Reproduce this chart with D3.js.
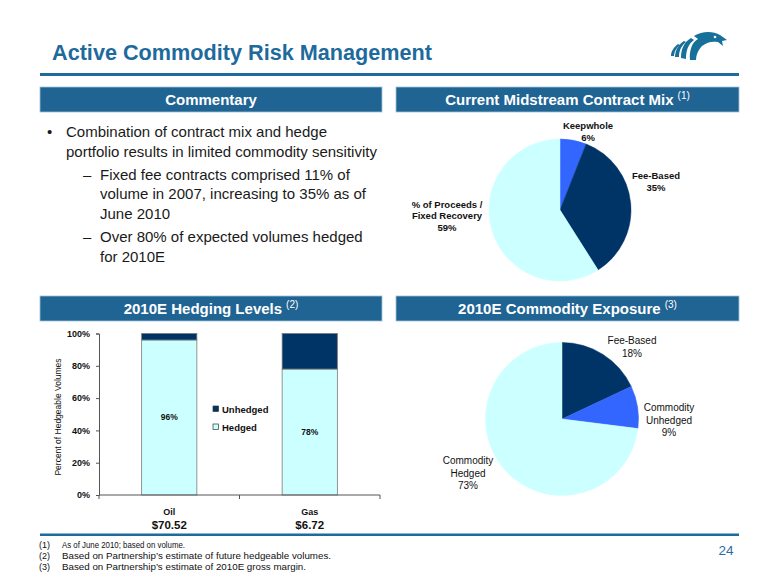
<!DOCTYPE html>
<html><head><meta charset="utf-8">
<script src="https://cdn.jsdelivr.net/npm/d3@7"></script>
<style>body{margin:0;background:#fff}svg{display:block;font-family:"Liberation Sans",Arial,Helvetica,sans-serif}</style>
</head><body><svg id="c" width="780" height="585"></svg>
<script>
// ---------- data ----------
const contractMixCategories = [["Keepwhole"], ["Fee-Based"], ["% of Proceeds /", "Fixed Recovery"]];
const contractMixValues = [6, 35, 59];
const exposureCategories = [["Fee-Based"], ["Commodity", "Unhedged"], ["Commodity", "Hedged"]];
const exposureValues = [18, 9, 73];
const hedgeCategories = ["Oil", "Gas"];
const hedgePrices = ["$70.52", "$6.72"];
const hedgedValues = [96, 78];
const unhedgedValues = [4, 22];
const hedgeSeries = ["Unhedged", "Hedged"];
const yTickValues = [0, 20, 40, 60, 80, 100];
const commentaryItems = [
  {level: 0, lines: ["Combination of contract mix and hedge", "portfolio results in limited commodity sensitivity"]},
  {level: 1, lines: ["Fixed fee contracts comprised 11% of", "volume in 2007, increasing to 35% as of", "June 2010"]},
  {level: 1, lines: ["Over 80% of expected volumes hedged", "for 2010E"]}
];
const footnotes = [
  ["(1)", "As of June 2010; based on volume."],
  ["(2)", "Based on Partnership\u2019s estimate of future hedgeable volumes."],
  ["(3)", "Based on Partnership\u2019s estimate of 2010E gross margin."]
];

// ---------- styles ----------
const NAVY = "#003366", BLUE = "#3366FF", CYAN = "#CCFFFF";
const HEAD = "#1F6493", TITLE = "#1E6A9C";
const svg = d3.select("#c");

// title
svg.append("text").attr("x", 52).attr("y", 60).attr("font-size", 22).attr("font-weight", "bold")
  .attr("fill", TITLE).attr("textLength", 380).attr("lengthAdjust", "spacingAndGlyphs")
  .text("Active Commodity Risk Management");
svg.append("rect").attr("x", 40).attr("y", 73).attr("width", 699).attr("height", 3).attr("fill", TITLE);

// eagle logo
const eagle = svg.append("g").attr("transform", "translate(670,31)").attr("fill", "#17709A");
eagle.append("path").attr("d", "M24,5 C32,0 43,0 50,4 L57,9 L52,10 L53,15 L48,11 C42,10 37,11 32,15 C28,19 26,24 26,29 L20,29 C19,20 22,11 28,8 C27,7 25,6 24,5 Z");
eagle.append("path").attr("d", "M21,7 C14,11 11,18 11,27 L16,28 C16,20 18,13 24,9 Z");
eagle.append("path").attr("d", "M14,10 C8,14 5,20 5,26 L9,26 C9,20 11,15 16,11 Z");
eagle.append("path").attr("d", "M8,13 C3,17 1,21 1,25 L4,25 C4,21 6,17 10,14 Z");
eagle.append("circle").attr("cx", 45).attr("cy", 6).attr("r", 1.3).attr("fill", "#fff");

// section headers
function header(x, y, w, h, label, sup) {
  svg.append("rect").attr("x", x).attr("y", y).attr("width", w).attr("height", h)
    .attr("fill", HEAD).attr("stroke", "#9FC0DA").attr("stroke-width", 0.8);
  const t = svg.append("text").attr("x", x + w / 2).attr("y", y + h / 2 + 5.5)
    .attr("text-anchor", "middle").attr("fill", "#fff").attr("font-size", 15).attr("font-weight", "bold");
  t.append("tspan").text(label);
  if (sup) t.append("tspan").attr("font-size", 10).attr("font-weight", "normal").attr("dx", 4).attr("dy", -6).text(sup);
}
header(40, 87, 342, 25, "Commentary");
header(396, 87, 343, 25, "Current Midstream Contract Mix", "(1)");
header(40, 296, 342, 25, "2010E Hedging Levels", "(2)");
header(396, 296, 343, 25, "2010E Commodity Exposure", "(3)");

// commentary
let by = 137;
commentaryItems.forEach((item, i) => {
  if (i > 0) by += 23;
  const mx = item.level === 0 ? 47 : 83;
  const tx = item.level === 0 ? 66 : 100;
  svg.append("text").attr("x", mx).attr("y", by).attr("font-size", 15).attr("fill", "#1a1a1a")
    .text(item.level === 0 ? "\u2022" : "\u2013");
  item.lines.forEach((ln, j) => {
    if (j > 0) by += 19.7;
    svg.append("text").attr("x", tx).attr("y", by).attr("font-size", 15).attr("fill", "#1a1a1a").text(ln);
  });
});

// ---------- pies ----------
function drawPie(cx, cy, r, values, cats, colors, labelOffsets, fontSize, weight, lh) {
  const pie = d3.pie().sort(null).value(d => d)(values);
  const arc = d3.arc().innerRadius(0).outerRadius(r);
  const g = svg.append("g").attr("transform", `translate(${cx},${cy})`);
  g.selectAll("path").data(pie).join("path").attr("d", arc)
    .attr("fill", (d, i) => colors[i]).attr("stroke", (d, i) => colors[i]).attr("stroke-width", 0.5);
  pie.forEach((d, i) => {
    const lines = cats[i].concat([values[i] + "%"]);
    const [ox, oy] = labelOffsets[i];
    const t = g.append("text").attr("text-anchor", "middle").attr("font-size", fontSize)
      .attr("font-weight", weight).attr("fill", "#111");
    const y0 = oy - (lines.length - 1) * lh / 2 + fontSize * 0.35;
    lines.forEach((ln, j) => t.append("tspan").attr("x", ox).attr("y", y0 + j * lh).text(ln));
  });
}
drawPie(560, 210, 71, contractMixValues, contractMixCategories, [BLUE, NAVY, CYAN],
  [[28, -78.5], [96, -28], [-113, 6]], 9.5, "bold", 11.7);
drawPie(562, 419, 76.5, exposureValues, exposureCategories, [NAVY, BLUE, CYAN],
  [[70, -72], [107, 1], [-94, 54]], 10, "normal", 12.7);

// ---------- stacked bar ----------
const rows = hedgeCategories.map((c, i) => ({cat: c, Hedged: hedgedValues[i], Unhedged: unhedgedValues[i]}));
const x = d3.scaleBand().domain(hedgeCategories).range([99, 380]).paddingInner(0.607).paddingOuter(0.3035);
const y = d3.scaleLinear().domain([0, 100]).range([495, 333.5]);
const stack = d3.stack().keys(["Hedged", "Unhedged"])(rows);
const colorOf = {Hedged: CYAN, Unhedged: NAVY};
const bars = svg.append("g");
stack.forEach(s => {
  bars.selectAll(null).data(s).join("rect")
    .attr("x", d => x(d.data.cat)).attr("width", x.bandwidth())
    .attr("y", d => y(d[1])).attr("height", d => y(d[0]) - y(d[1]))
    .attr("fill", colorOf[s.key]).attr("stroke", "#7a7a7a").attr("stroke-width", 0.8);
});
// value labels
stack[0].forEach(d => {
  svg.append("text").attr("x", x(d.data.cat) + x.bandwidth() / 2).attr("y", (y(d[0]) + y(d[1])) / 2 + 3)
    .attr("text-anchor", "middle").attr("font-size", 8.5).attr("font-weight", "bold").attr("fill", "#111")
    .text(d.data.Hedged + "%");
});
// y axis
const yAxis = svg.append("g").attr("transform", "translate(99,0)")
  .call(d3.axisLeft(y).tickValues(yTickValues).tickFormat(d => d + "%").tickSize(3).tickPadding(6));
yAxis.select(".domain").attr("stroke", "#555");
yAxis.selectAll(".tick line").attr("stroke", "#555");
yAxis.selectAll(".tick text").attr("font-size", 9).attr("font-weight", "bold").attr("fill", "#111")
  .attr("font-family", "Liberation Sans, Arial, sans-serif");
// x axis
const xg = svg.append("g");
xg.append("line").attr("x1", 99).attr("x2", 380).attr("y1", y(0)).attr("y2", y(0)).attr("stroke", "#555");
const edges = [x.range()[0]].concat(hedgeCategories.map(c => x(c) - x.step() * x.paddingInner() / 2 + x.step()));
edges.forEach(e => xg.append("line").attr("x1", e).attr("x2", e).attr("y1", y(0)).attr("y2", y(0) + 4).attr("stroke", "#555"));
hedgeCategories.forEach((c, i) => {
  const cx = x(c) + x.bandwidth() / 2;
  svg.append("text").attr("x", cx).attr("y", 515).attr("text-anchor", "middle").attr("font-size", 9)
    .attr("font-weight", "bold").attr("fill", "#111").text(c);
  svg.append("text").attr("x", cx).attr("y", 529).attr("text-anchor", "middle").attr("font-size", 11.5)
    .attr("font-weight", "bold").attr("fill", "#111").text(hedgePrices[i]);
});
// y title
svg.append("text").attr("transform", "translate(61,417) rotate(-90)").attr("text-anchor", "middle")
  .attr("font-size", 8.5).attr("fill", "#111").text("Percent of Hedgeable Volumes");
// legend
hedgeSeries.forEach((s, i) => {
  const ly = 409 + i * 18;
  svg.append("rect").attr("x", 213).attr("y", ly - 3).attr("width", 5.5).attr("height", 5.5)
    .attr("fill", colorOf[s]).attr("stroke", "#333").attr("stroke-width", 0.7);
  svg.append("text").attr("x", 222).attr("y", ly + 3.5).attr("font-size", 9.5).attr("font-weight", "bold")
    .attr("fill", "#111").text(s);
});

// bottom rule & footnotes
svg.append("rect").attr("x", 40).attr("y", 533.5).attr("width", 699).attr("height", 2.5).attr("fill", TITLE);
const fnWidths = [123, 269, 244];
footnotes.forEach((f, i) => {
  const fy = 548 + i * 10.8;
  svg.append("text").attr("x", 39).attr("y", fy).attr("font-size", 9).attr("fill", "#111").text(f[0]);
  svg.append("text").attr("x", 62).attr("y", fy).attr("font-size", 9).attr("fill", "#111")
    .attr("textLength", fnWidths[i]).attr("lengthAdjust", "spacingAndGlyphs").text(f[1]);
});
svg.append("text").attr("x", 726).attr("y", 555).attr("text-anchor", "middle").attr("font-size", 13.5)
  .attr("fill", "#2B6CA3").text("24");
</script></body></html>
